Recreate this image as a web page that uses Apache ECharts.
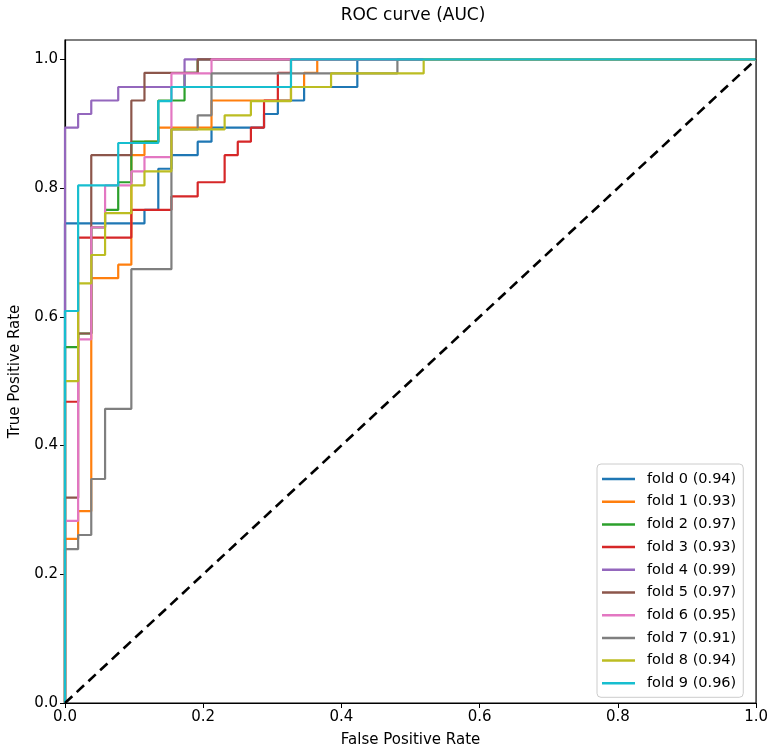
<!DOCTYPE html>
<html>
<head>
<meta charset="utf-8">
<script src="https://cdn.jsdelivr.net/npm/echarts@6/dist/echarts.min.js"></script>
<style>
  html, body { margin: 0; padding: 0; background: #fff; }
  #roc { width: 771px; height: 753px; }
</style>
</head>
<body>
<div id="roc"></div>
<script>
// legend names and colours (matplotlib tab10)
var foldNames = ['fold 0 (0.94)', 'fold 1 (0.93)', 'fold 2 (0.97)', 'fold 3 (0.93)', 'fold 4 (0.99)',
    'fold 5 (0.97)', 'fold 6 (0.95)', 'fold 7 (0.91)', 'fold 8 (0.94)', 'fold 9 (0.96)'];
var foldColors = ['#1f77b4', '#ff7f0e', '#2ca02c', '#d62728', '#9467bd',
    '#8c564b', '#e377c2', '#7f7f7f', '#bcbd22', '#17becf'];

var tickValues = [0, 0.2, 0.4, 0.6, 0.8, 1.0];

// roc corner points
var fpr0 = [0, 0, 0.115, 0.115, 0.135, 0.135, 0.154, 0.154, 0.192, 0.192, 0.212, 0.212, 0.288, 0.288, 0.308, 0.308, 0.346, 0.346, 0.423, 0.423, 1];
var tpr0 = [0, 0.745, 0.745, 0.766, 0.766, 0.830, 0.830, 0.851, 0.851, 0.872, 0.872, 0.894, 0.894, 0.915, 0.915, 0.936, 0.936, 0.957, 0.957, 1, 1];

var fpr1 = [0, 0, 0.019, 0.019, 0.038, 0.038, 0.077, 0.077, 0.096, 0.096, 0.115, 0.115, 0.135, 0.135, 0.212, 0.212, 0.327, 0.327, 0.346, 0.346, 0.365, 0.365, 1];
var tpr1 = [0, 0.255, 0.255, 0.298, 0.298, 0.660, 0.660, 0.681, 0.681, 0.851, 0.851, 0.872, 0.872, 0.894, 0.894, 0.936, 0.936, 0.957, 0.957, 0.979, 0.979, 1, 1];

var fpr2 = [0, 0, 0.019, 0.019, 0.038, 0.038, 0.058, 0.058, 0.077, 0.077, 0.096, 0.096, 0.135, 0.135, 0.173, 0.173, 0.192, 0.192, 1];
var tpr2 = [0, 0.553, 0.553, 0.574, 0.574, 0.739, 0.739, 0.766, 0.766, 0.809, 0.809, 0.872, 0.872, 0.936, 0.936, 0.979, 0.979, 1, 1];

var fpr3 = [0, 0, 0.019, 0.019, 0.096, 0.096, 0.154, 0.154, 0.192, 0.192, 0.231, 0.231, 0.250, 0.250, 0.269, 0.269, 0.288, 0.288, 0.308, 0.308, 0.327, 0.327, 1];
var tpr3 = [0, 0.468, 0.468, 0.723, 0.723, 0.766, 0.766, 0.787, 0.787, 0.809, 0.809, 0.851, 0.851, 0.872, 0.872, 0.894, 0.894, 0.936, 0.936, 0.979, 0.979, 1, 1];

var fpr4 = [0, 0, 0.019, 0.019, 0.038, 0.038, 0.077, 0.077, 0.173, 0.173, 1];
var tpr4 = [0, 0.894, 0.894, 0.915, 0.915, 0.936, 0.936, 0.957, 0.957, 1, 1];

var fpr5 = [0, 0, 0.019, 0.019, 0.038, 0.038, 0.096, 0.096, 0.115, 0.115, 0.192, 0.192, 1];
var tpr5 = [0, 0.319, 0.319, 0.574, 0.574, 0.851, 0.851, 0.936, 0.936, 0.979, 0.979, 1, 1];

var fpr6 = [0, 0, 0.019, 0.019, 0.038, 0.038, 0.058, 0.058, 0.096, 0.096, 0.115, 0.115, 0.154, 0.154, 0.212, 0.212, 1];
var tpr6 = [0, 0.283, 0.283, 0.565, 0.565, 0.739, 0.739, 0.804, 0.804, 0.826, 0.826, 0.848, 0.848, 0.978, 0.978, 1, 1];

var fpr7 = [0, 0, 0.019, 0.019, 0.038, 0.038, 0.058, 0.058, 0.096, 0.096, 0.154, 0.154, 0.192, 0.192, 0.212, 0.212, 0.481, 0.481, 1];
var tpr7 = [0, 0.239, 0.239, 0.261, 0.261, 0.348, 0.348, 0.457, 0.457, 0.674, 0.674, 0.891, 0.891, 0.913, 0.913, 0.978, 0.978, 1, 1];

var fpr8 = [0, 0, 0.019, 0.019, 0.038, 0.038, 0.058, 0.058, 0.096, 0.096, 0.115, 0.115, 0.154, 0.154, 0.231, 0.231, 0.269, 0.269, 0.327, 0.327, 0.385, 0.385, 0.519, 0.519, 1];
var tpr8 = [0, 0.500, 0.500, 0.652, 0.652, 0.696, 0.696, 0.761, 0.761, 0.804, 0.804, 0.826, 0.826, 0.891, 0.891, 0.913, 0.913, 0.935, 0.935, 0.957, 0.957, 0.978, 0.978, 1, 1];

var fpr9 = [0, 0, 0.019, 0.019, 0.077, 0.077, 0.135, 0.135, 0.154, 0.154, 0.327, 0.327, 1];
var tpr9 = [0, 0.609, 0.609, 0.804, 0.804, 0.870, 0.870, 0.935, 0.935, 0.957, 0.957, 1, 1];

// chance line
var chanceX = [0, 1];
var chanceY = [0, 1];

var allFpr = [fpr0, fpr1, fpr2, fpr3, fpr4, fpr5, fpr6, fpr7, fpr8, fpr9];
var allTpr = [tpr0, tpr1, tpr2, tpr3, tpr4, tpr5, tpr6, tpr7, tpr8, tpr9];

function pairs(xs, ys) {
    var out = [];
    for (var i = 0; i < xs.length; i++) {
        out.push([xs[i], ys[i]]);
    }
    return out;
}

var font = 'DejaVu Sans';
var series = [];
for (var k = 0; k < foldNames.length; k++) {
    series.push({
        name: foldNames[k],
        type: 'line',
        symbol: 'none',
        data: pairs(allFpr[k], allTpr[k]),
        lineStyle: { color: foldColors[k], width: 2.2 },
        itemStyle: { color: foldColors[k] }
    });
}
series.push({
    name: 'chance',
    type: 'line',
    symbol: 'none',
    data: pairs(chanceX, chanceY),
    lineStyle: { color: '#000', width: 2.6, type: [10, 6] }
});

var chart = echarts.init(document.getElementById('roc'));
chart.setOption({
    animation: false,
    color: foldColors,
    title: {
        text: 'ROC curve (AUC)',
        left: 408,
        textAlign: 'center',
        top: 2,
        textStyle: { fontFamily: font, fontWeight: 'normal', fontSize: 17, color: '#000' }
    },
    legend: {
        data: foldNames,
        orient: 'vertical',
        left: 597,
        top: 464,
        padding: [7, 7, 6, 5],
        icon: 'rect',
        itemWidth: 33,
        itemHeight: 2.5,
        itemGap: 6.7,
        backgroundColor: 'rgba(255,255,255,0.85)',
        borderColor: '#cccccc',
        borderWidth: 1,
        borderRadius: 4,
        textStyle: { fontFamily: font, fontSize: 14.5, color: '#000', lineHeight: 16, padding: [0, 0, 0, 7] }
    },
    grid: {
        left: 60,
        right: 14,
        top: 40,
        bottom: 48,
        show: true,
        borderColor: '#000',
        borderWidth: 1.2,
        backgroundColor: '#fff'
    },
    xAxis: {
        type: 'value',
        min: 0,
        max: 1,
        interval: 0.2,
        name: 'False Positive Rate',
        nameLocation: 'middle',
        nameGap: 30,
        nameTextStyle: { fontFamily: font, fontSize: 15, color: '#000' },
        axisLine: { lineStyle: { color: '#000', width: 1.2 } },
        axisTick: { show: true, length: 5, lineStyle: { color: '#000' }, customValues: tickValues },
        axisLabel: {
            fontFamily: font, fontSize: 15, color: '#000', margin: 7,
            customValues: tickValues,
            formatter: function (v) { return v.toFixed(1); }
        },
        splitLine: { show: false }
    },
    yAxis: {
        type: 'value',
        min: 0,
        max: 1.03,
        interval: 0.2,
        name: 'True Positive Rate',
        nameLocation: 'middle',
        nameGap: 42,
        nameTextStyle: { fontFamily: font, fontSize: 15, color: '#000' },
        axisLine: { lineStyle: { color: '#000', width: 1.2 } },
        axisTick: { show: true, length: 5, lineStyle: { color: '#000' }, customValues: tickValues },
        axisLabel: {
            fontFamily: font, fontSize: 15, color: '#000', margin: 7,
            customValues: tickValues,
            formatter: function (v) { return v > 1.001 ? '' : v.toFixed(1); }
        },
        splitLine: { show: false }
    },
    series: series
});
</script>
</body>
</html>
